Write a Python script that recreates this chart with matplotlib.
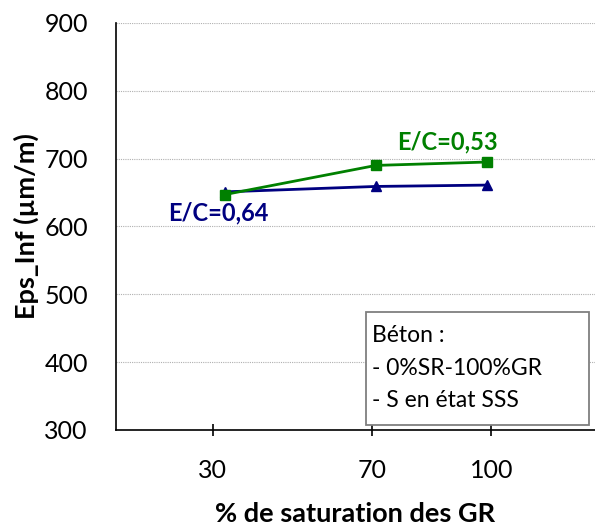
import matplotlib
matplotlib.use("Agg")
import matplotlib.pyplot as plt
from matplotlib.patches import Rectangle

# Saturation level of recycled aggregates (%) and final strain (µm/m)
saturation = [33, 71, 99]
eps_ec053 = [647, 690, 695]
eps_ec064 = [651, 659, 661]
xtick_values = [30, 70, 100]
ytick_values = [300, 400, 500, 600, 700, 800, 900]
note_lines = ['Béton :', '- 0%SR-100%GR', '- S en état SSS']

plt.rcParams['font.family'] = ['Lato', 'DejaVu Sans']

green = '#008000'
navy = '#000080'

fig = plt.figure(figsize=(5.95, 5.30), dpi=100)
ax = fig.add_axes([0.1945, 0.1887, 0.805, 0.768])

ax.plot(saturation, eps_ec064, color=navy, lw=2, marker='^', ms=7, zorder=3)
ax.plot(saturation, eps_ec053, color=green, lw=2, marker='s', ms=7, zorder=4)

ax.set_xlim(5.6, 126)
ax.set_ylim(300, 900)
ax.set_xticks(xtick_values)
ax.set_yticks(ytick_values)
ax.tick_params(axis='x', direction='inout', length=8, width=1.2, pad=17, labelsize=18)
ax.tick_params(axis='y', length=0, pad=20, labelsize=18)

ax.grid(axis='y', color='#b0b0b0', linestyle=(0, (1, 1)), lw=0.8)
ax.set_axisbelow(True)
for side in ('top', 'right'):
    ax.spines[side].set_visible(False)
for side in ('left', 'bottom'):
    ax.spines[side].set_linewidth(1.2)

ax.set_xlabel('% de saturation des GR', fontsize=19.5, fontweight='bold', labelpad=14)
ax.set_ylabel('Eps_Inf (µm/m)', fontsize=19.5, fontweight='bold', labelpad=4)

ax.text(89, 725, 'E/C=0,53', color=green, fontsize=17, fontweight='bold',
        ha='center', va='center')
ax.text(31.4, 620, 'E/C=0,64', color=navy, fontsize=17, fontweight='bold',
        ha='center', va='center')

# Note box with the concrete description
ax.add_patch(Rectangle((68.6, 307.3), 124.6 - 68.6, 474.2 - 307.3,
                       fc='white', ec='#7f7f7f', lw=1.3, zorder=5))
for line, yb in zip(note_lines, [429.6, 381.0, 333.9]):
    ax.text(70.1, yb, line, fontsize=16.5, ha='left', va='baseline', zorder=6)

fig.savefig('out.png', dpi=100)
